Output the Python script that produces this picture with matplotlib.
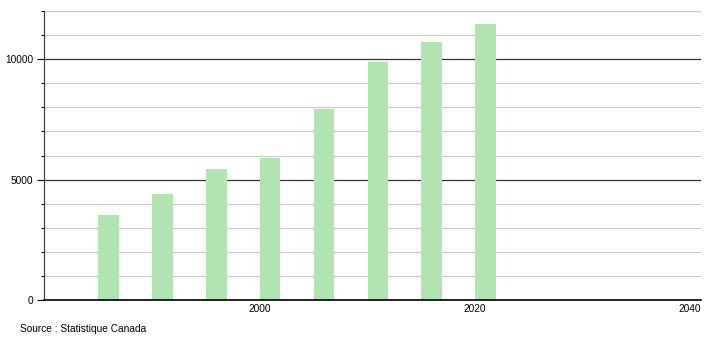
import matplotlib.pyplot as plt
import numpy as np

years = [1986, 1991, 1996, 2001, 2006, 2011, 2016, 2021]
values = [3531, 4404, 5442, 5899, 7935, 9888, 10719, 11467]
y_labels = [0, 5000, 10000]
x_labels = [2000, 2020, 2040]

plt.rcParams['font.family'] = ['Liberation Sans', 'DejaVu Sans']

fig = plt.figure(figsize=(7.1, 3.4), dpi=100)
ax = fig.add_axes([0.062, 0.1176, 0.925, 0.85])

# grid: light every 1000, dark every 5000
for v in range(1000, 12001, 1000):
    if v % 5000 == 0:
        ax.axhline(v, color='#333333', linewidth=0.9, zorder=1)
    else:
        ax.axhline(v, color='#cccccc', linewidth=0.9, zorder=1)

ax.bar(years, values, width=1.9, color='#b0e4b0', zorder=2)

ax.set_xlim(1980, 2041)
ax.set_ylim(0, 12000)

ax.set_yticks(y_labels)
ax.set_yticks(np.arange(0, 12001, 1000), minor=True)
ax.set_xticks(x_labels)
ax.tick_params(axis='y', which='major', length=5, width=0.8, labelsize=7.3, pad=3)
ax.tick_params(axis='y', which='minor', length=2, width=0.8)
ax.tick_params(axis='x', length=0, labelsize=7.3, pad=3)

for s in ['top', 'right']:
    ax.spines[s].set_visible(False)
ax.spines['left'].set_color('#333333')
ax.spines['bottom'].set_color('black')
ax.spines['bottom'].set_linewidth(1.2)

fig.text(20 / 710, 1 - 329 / 340, 'Source : Statistique Canada', fontsize=7.3, va='center')

fig.savefig('out.png', dpi=100)
